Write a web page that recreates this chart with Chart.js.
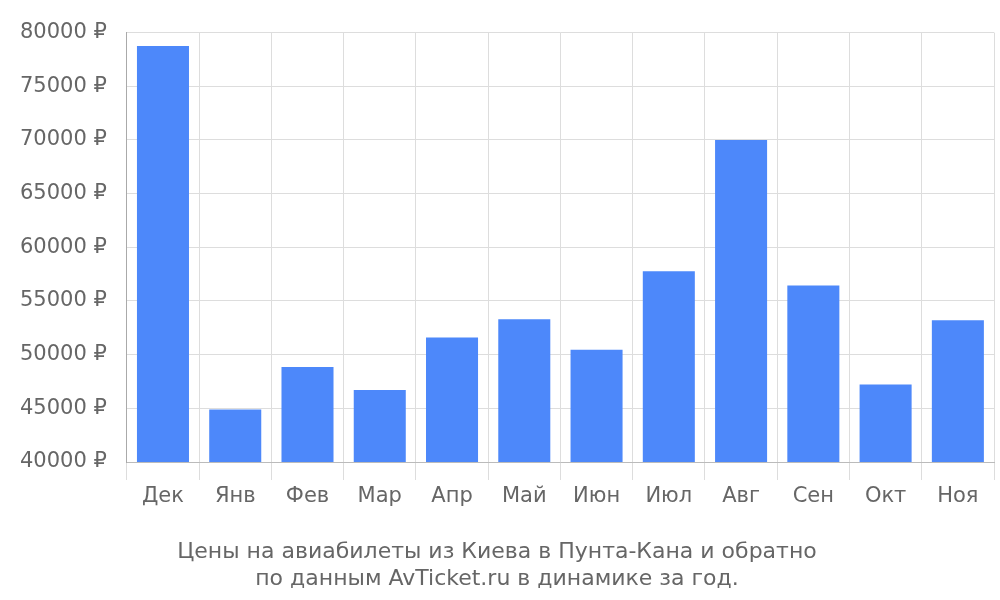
<!DOCTYPE html>
<html><head><meta charset="utf-8">
<script src="https://cdn.jsdelivr.net/npm/chart.js@4"></script>
<style>body{margin:0;background:#fff}#w{width:1000px;height:600px}</style>
</head><body><div id="w"><canvas id="c"></canvas></div>
<script>
const months = ["Дек","Янв","Фев","Мар","Апр","Май","Июн","Июл","Авг","Сен","Окт","Ноя"];
const prices = [78750,44900,48840,46700,51600,53300,50450,57770,70000,56430,47230,53200];
const titleLines = ["Цены на авиабилеты из Киева в Пунта-Кана и обратно","по данным AvTicket.ru в динамике за год."];
new Chart(document.getElementById('c'), {
  type: 'bar',
  data: { labels: months, datasets: [{ data: prices, backgroundColor: '#4d88fa', barPercentage: 0.72, categoryPercentage: 1 }] },
  options: {
    responsive: true, maintainAspectRatio: false, animation: false,
    layout: { padding: { top: 0, right: 6, bottom: 0, left: 0 } },
    plugins: {
      legend: { display: false }, tooltip: { enabled: false },
      title: { display: true, position: 'bottom', text: titleLines, color: '#666',
        font: { family: 'DejaVu Sans', size: 22, weight: 'normal' }, padding: { top: 26, bottom: 8 }, lineHeight: 1.2 }
    },
    scales: {
      x: { grid: { color: '#ddd', offset: true, tickLength: 18 }, border: { color: '#bbb' },
           ticks: { color: '#666', font: { family: 'DejaVu Sans', size: 21 }, padding: 4 } },
      y: { min: 40000, max: 80000, grid: { color: '#ddd', drawTicks: false }, border: { color: '#aaa' },
           ticks: { stepSize: 5000, color: '#666', padding: 20, font: { family: 'DejaVu Sans', size: 21 },
                    callback: v => v + ' ₽' } }
    }
  }
});
</script></body></html>
